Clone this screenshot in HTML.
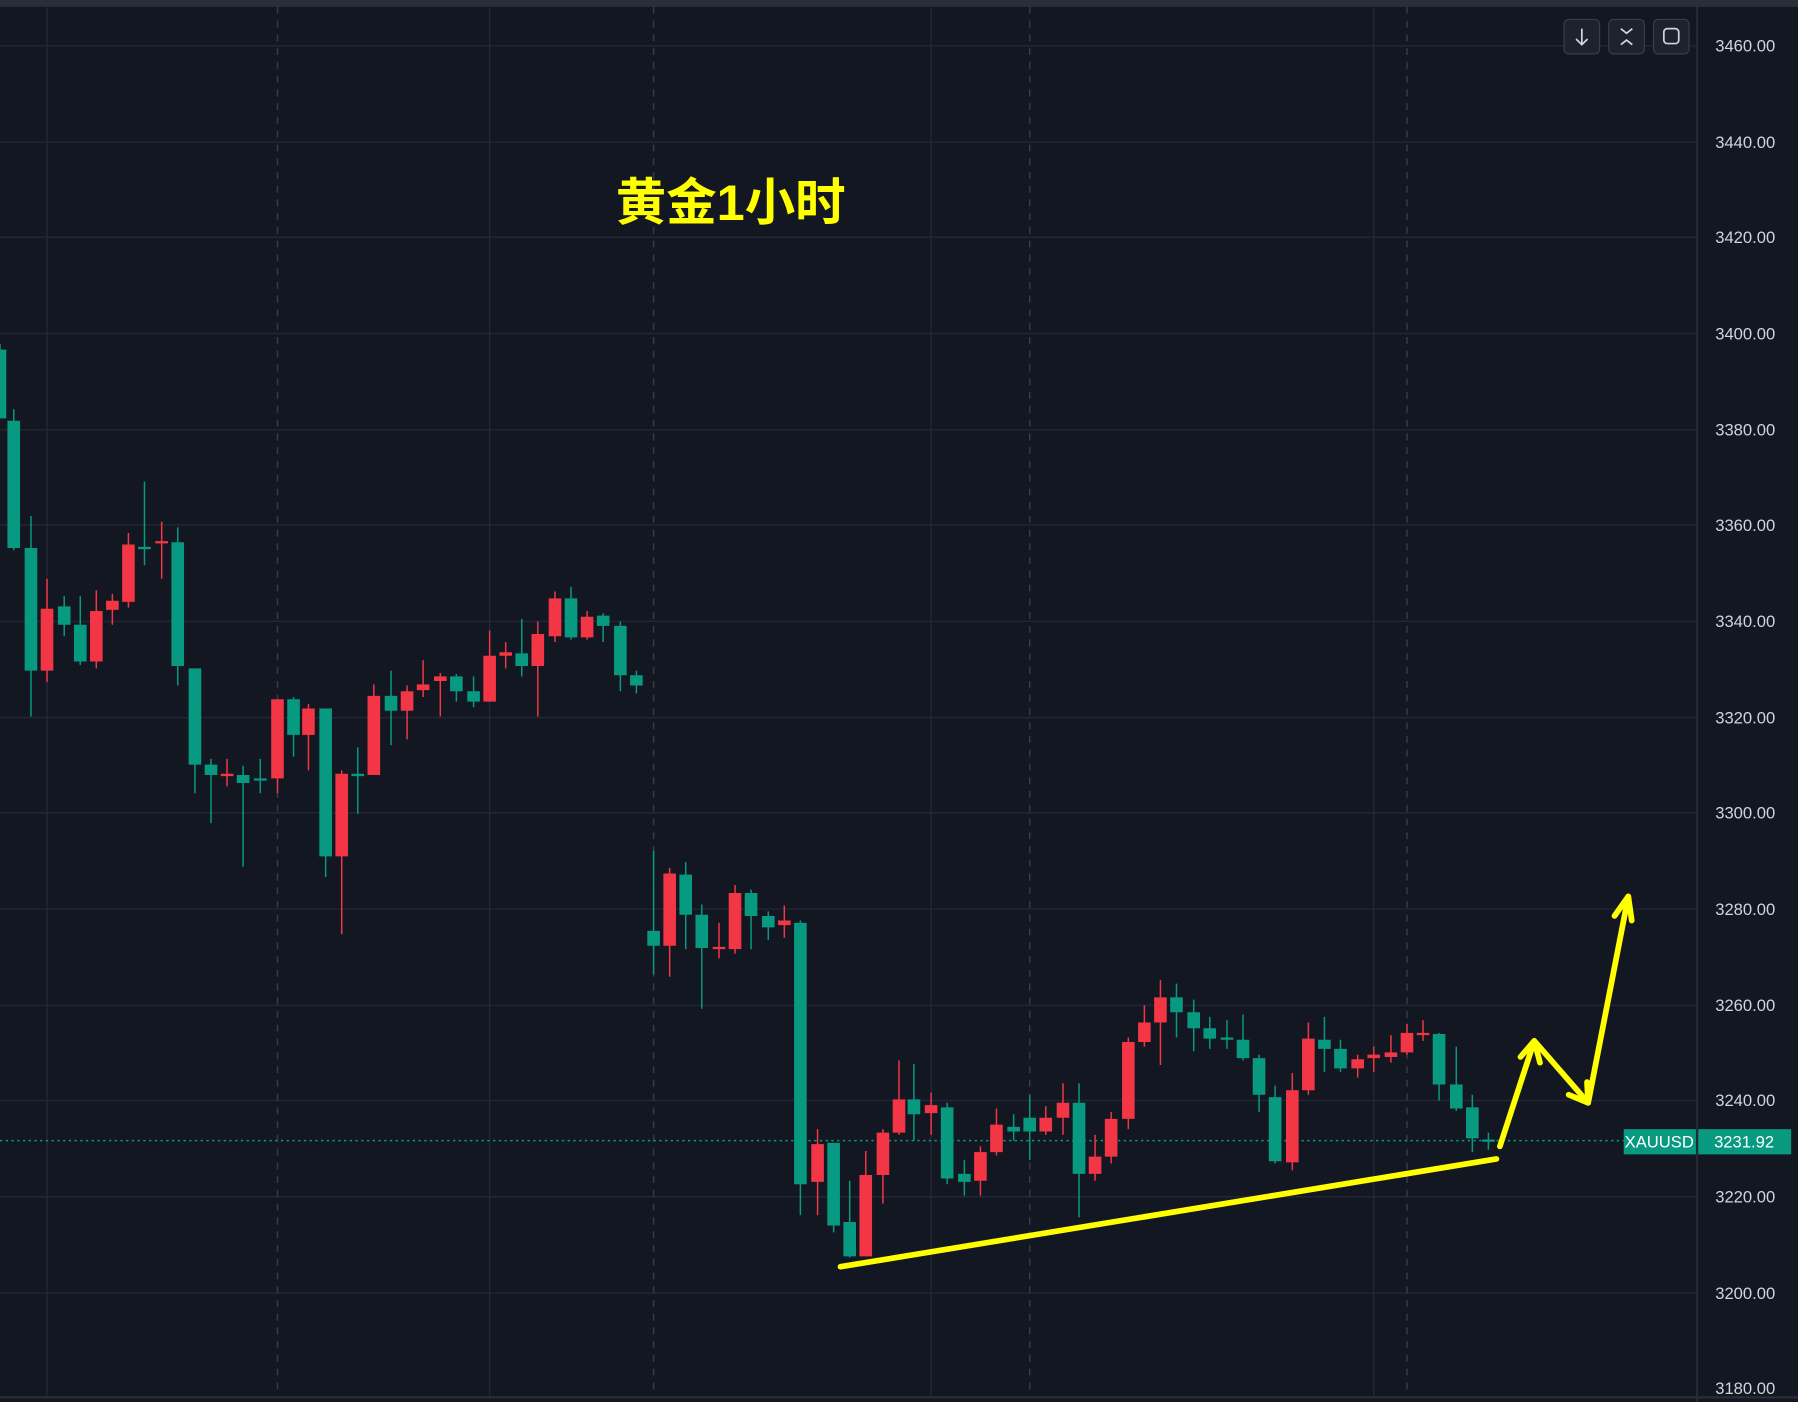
<!DOCTYPE html>
<html><head><meta charset="utf-8"><style>
html,body{margin:0;padding:0;background:#131722;}
svg{display:block;}
</style></head><body>
<svg width="1798" height="1402" viewBox="0 0 1568 1223" preserveAspectRatio="none" xmlns="http://www.w3.org/2000/svg">
<rect x="0" y="0" width="1568" height="1223" fill="#131722"/>
<rect x="0" y="0" width="1568" height="6" fill="#2a2e39"/>
<g stroke="#232733" stroke-width="1.3">
<line x1="0" y1="40" x2="1480" y2="40"/><line x1="0" y1="124" x2="1480" y2="124"/><line x1="0" y1="207" x2="1480" y2="207"/><line x1="0" y1="291" x2="1480" y2="291"/><line x1="0" y1="375" x2="1480" y2="375"/><line x1="0" y1="458" x2="1480" y2="458"/><line x1="0" y1="542" x2="1480" y2="542"/><line x1="0" y1="626" x2="1480" y2="626"/><line x1="0" y1="709" x2="1480" y2="709"/><line x1="0" y1="793" x2="1480" y2="793"/><line x1="0" y1="877" x2="1480" y2="877"/><line x1="0" y1="960" x2="1480" y2="960"/><line x1="0" y1="1044" x2="1480" y2="1044"/><line x1="0" y1="1128" x2="1480" y2="1128"/>
<line x1="41" y1="6" x2="41" y2="1218"/><line x1="427" y1="6" x2="427" y2="1218"/><line x1="812" y1="6" x2="812" y2="1218"/><line x1="1198" y1="6" x2="1198" y2="1218"/>
</g>
<g stroke="#363a45" stroke-width="1.3" stroke-dasharray="6,6">
<line x1="242" y1="6" x2="242" y2="1218"/><line x1="570" y1="6" x2="570" y2="1218"/><line x1="898" y1="6" x2="898" y2="1218"/><line x1="1227" y1="6" x2="1227" y2="1218"/>
</g>
<line x1="1480" y1="6" x2="1480" y2="1223" stroke="#2a2e39" stroke-width="1.5"/>
<line x1="0" y1="1219" x2="1568" y2="1219" stroke="#2a2e39" stroke-width="2"/>
<line x1="0" y1="995" x2="1416" y2="995" stroke="#089981" stroke-width="1.3" stroke-dasharray="2,3"/>

<path fill="none" stroke="#089981" stroke-width="1.3" d="M0 300V365M12 357V480M27 450V625M56 520V555M70 520V580M126 420V493M155 460V598M170 583V692M184 662V718M212 668V756M227 662V692M256 608V660M284 618V765M312 652V710M341 585V650M398 588V612M413 590V617M455 540V590M498 512V558M526 535V560M541 542V603M555 585V605M570 742V850M598 752V828M612 789V880M655 776V828M670 795V820M698 803V1060M727 997V1075M741 1030V1097M797 928V995M826 962V1033M841 1012V1043M884 972V995M898 955V1012M941 945V1062M1026 858V905M1041 872V917M1055 887V915M1070 890V915M1084 885V925M1098 920V970M1112 947V1015M1155 887V935M1169 907V935M1255 901V960M1270 913V969M1284 955V1005M1298 988V1003"/>
<path fill="none" stroke="#089981" stroke-width="11" d="M0 305V365M12 367V478M27 478V585M56 529V545M70 545V577M126 477V479M155 473V581M170 583V667M184 667V676M212 676V683M227 679V681M256 610V641M284 618V747M312 675V677M341 607V620M398 590V603M413 603V612M455 570V581M498 522V556M526 537V546M541 546V589M555 589V598M570 812V825M598 763V798M612 798V827M655 779V799M670 799V809M698 805V1033M727 997V1069M741 1066V1096M797 959V972M826 966V1028M841 1024V1031M884 983V987M898 975V987M941 962V1024M1026 870V883M1041 883V897M1055 897V906M1070 905V907M1084 907V923M1098 923V955M1112 957V1013M1155 907V915M1169 915V932M1255 902V946M1270 946V967M1284 966V993M1298 994V996"/>
<path fill="none" stroke="#f23645" stroke-width="1.3" d="M41 505V595M84 515V583M98 518V545M112 465V530M141 455V505M198 662V686M242 610V692M269 614V672M298 672V815M326 597V676M355 598V645M369 576V608M384 587V625M427 550V612M441 560V583M469 542V625M484 516V560M512 533V558M584 757V852M627 805V836M641 772V832M684 790V818M713 985V1060M755 1004V1096M770 985V1050M784 925V990M812 953V990M855 1000V1043M869 967V1008M912 965V990M927 945V990M955 990V1030M969 970V1015M984 905V985M998 877V913M1012 855V929M1127 936V1021M1141 892V955M1184 920V940M1198 913V935M1213 903V927M1227 893V920M1241 890V908"/>
<path fill="none" stroke="#f23645" stroke-width="11" d="M41 531V585M84 533V577M98 524V532M112 475V525M141 472V474M198 675V677M242 610V679M269 618V641M298 675V747M326 607V676M355 603V620M369 597V602M384 590V594M427 572V612M441 569V572M469 553V581M484 522V555M512 538V556M584 762V825M627 826V828M641 779V828M684 803V807M713 998V1031M755 1025V1096M770 988V1025M784 959V988M812 964V971M855 1005V1030M869 981V1005M912 975V987M927 962V975M955 1009V1024M969 976V1009M984 909V976M998 892V909M1012 870V892M1127 951V1014M1141 906V951M1184 924V932M1198 920V923M1213 918V922M1227 901V918M1241 901V903"/>

<g font-family="Liberation Sans, sans-serif" font-size="14.5" fill="#d1d4dc" text-anchor="middle">
<text x="1522" y="45">3460.00</text><text x="1522" y="129">3440.00</text><text x="1522" y="212">3420.00</text><text x="1522" y="296">3400.00</text><text x="1522" y="380">3380.00</text><text x="1522" y="463">3360.00</text><text x="1522" y="547">3340.00</text><text x="1522" y="631">3320.00</text><text x="1522" y="714">3300.00</text><text x="1522" y="798">3280.00</text><text x="1522" y="882">3260.00</text><text x="1522" y="965">3240.00</text><text x="1522" y="1049">3220.00</text><text x="1522" y="1133">3200.00</text><text x="1522" y="1216">3180.00</text>
</g>
<rect x="1416" y="985" width="63" height="22" fill="#089981"/>
<rect x="1481" y="985" width="81" height="22" fill="#089981"/>
<g font-family="Liberation Sans, sans-serif" font-size="14.5" fill="#ffffff" text-anchor="middle">
<text x="1447" y="1001">XAUUSD</text><text x="1521" y="1001">3231.92</text>
</g>
<g fill="#1e222d" stroke="#3a3e4a" stroke-width="1">
<rect x="1364" y="17" width="31" height="30" rx="4"/><rect x="1403" y="17" width="31" height="30" rx="4"/><rect x="1442" y="17" width="31" height="30" rx="4"/>
</g>
<g stroke="#d1d4dc" stroke-width="1.5" fill="none">
<path d="M1379.5 25 V39 M1374.5 34 L1379.5 39 L1384.5 34"/>
<path d="M1413.5 25 L1418.5 29 L1423.5 25 M1413.5 39 L1418.5 35 L1423.5 39"/>
<rect x="1451" y="25" width="13" height="13" rx="3"/>
</g>
<text x="537" y="192" font-family="Liberation Sans, 'Noto Sans CJK SC', sans-serif" font-size="44" font-weight="bold" fill="#ffff00">黄金1小时</text>
<g stroke="#ffff00" stroke-width="5" stroke-linecap="round" stroke-linejoin="round" fill="none">
<line x1="733" y1="1105" x2="1305" y2="1011"/>
<path d="M1308 1000 L1338 908 L1385 962 L1420 782"/>
<path d="M1326 922 L1338 908 L1343 927"/>
<path d="M1368 955 L1385 962 L1384 944"/>
<path d="M1408 799 L1420 782 L1423 803"/>
</g>
</svg>
</body></html>
